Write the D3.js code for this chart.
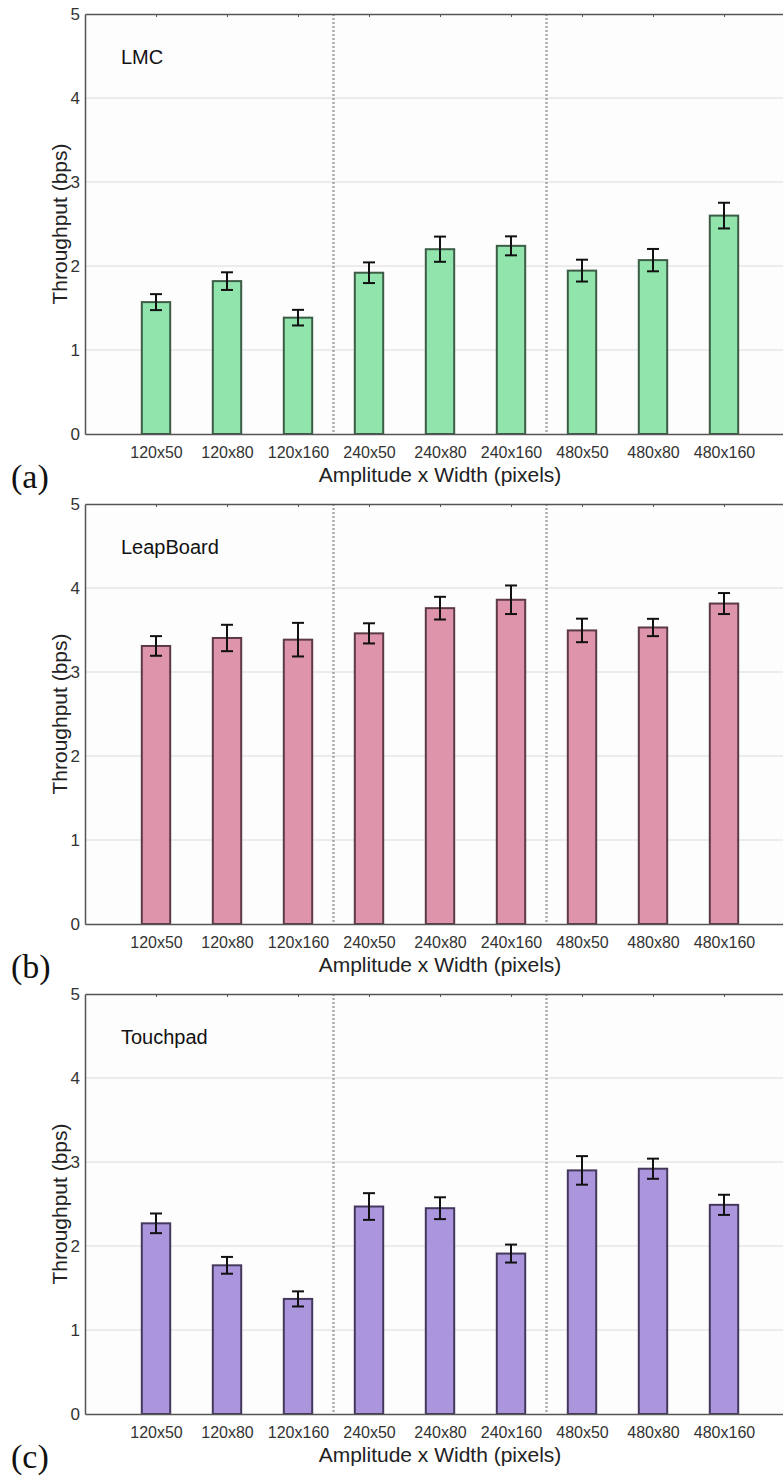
<!DOCTYPE html>
<html>
<head>
<meta charset="utf-8">
<script src="https://cdn.jsdelivr.net/npm/d3@7"></script>
<style>
  html, body { margin:0; padding:0; background:#fff; }
  svg { display:block; }
</style>
</head>
<body>
<div id="chart"></div>
<script>
// ---- data -------------------------------------------------------
const categories = ["120x50","120x80","120x160","240x50","240x80","240x160","480x50","480x80","480x160"];
const yTicks     = [0, 1, 2, 3, 4, 5];
const groupBreaks = [3.5, 6.5];           // dotted separators between amplitude groups

const lmcMean   = [1.57, 1.82, 1.385, 1.92, 2.20, 2.24, 1.945, 2.07, 2.60];
const lmcErr    = [0.095, 0.105, 0.093, 0.123, 0.15, 0.113, 0.13, 0.133, 0.153];
const leapMean  = [3.31, 3.405, 3.385, 3.46, 3.76, 3.86, 3.495, 3.53, 3.815];
const leapErr   = [0.117, 0.157, 0.20, 0.12, 0.135, 0.17, 0.14, 0.103, 0.125];
const touchMean = [2.27, 1.77, 1.37, 2.47, 2.45, 1.91, 2.90, 2.92, 2.49];
const touchErr  = [0.117, 0.10, 0.09, 0.159, 0.13, 0.107, 0.17, 0.12, 0.12];

const panels = [
  { tag:"(a)", name:"LMC",       mean:lmcMean,   err:lmcErr,   fill:"#90e4ac", stroke:"#3c5c46" },
  { tag:"(b)", name:"LeapBoard", mean:leapMean,  err:leapErr,  fill:"#de94aa", stroke:"#5c3a47" },
  { tag:"(c)", name:"Touchpad",  mean:touchMean, err:touchErr, fill:"#ab96de", stroke:"#44395c" }
];

// ---- layout -------------------------------------------------------
const W = 783, H = 1475;
const plotH = 420, panelStep = 490, top0 = 14;
const left = 85, rightEdge = 795;          // plot runs past the picture edge
const sans = "'Liberation Sans', Arial, Helvetica, sans-serif";

const svg = d3.select("#chart").append("svg")
  .attr("width", W).attr("height", H)
  .attr("font-family", sans);

const x = d3.scaleLinear().domain([0, 10]).range([left, rightEdge]);
const barW = (x(1) - x(0)) * 0.4;

panels.forEach((p, k) => {
  const top = top0 + k * panelStep;
  const y = d3.scaleLinear().domain([0, 5]).range([top + plotH, top]);
  const g = svg.append("g");

  // plot background
  g.append("rect")
    .attr("x", x(0)).attr("y", y(5))
    .attr("width", x(10) - x(0)).attr("height", y(0) - y(5))
    .attr("fill", "#fdfdfd");

  // grid
  g.append("g").selectAll("line")
    .data(yTicks.filter(t => t > 0 && t < 5))
    .join("line")
      .attr("x1", x(0)).attr("x2", x(10))
      .attr("y1", d => y(d)).attr("y2", d => y(d))
      .attr("stroke", "#e6e6e6").attr("stroke-width", 1.5);

  // group separators
  g.append("g").selectAll("line")
    .data(groupBreaks)
    .join("line")
      .attr("x1", d => x(d)).attr("x2", d => x(d))
      .attr("y1", y(5)).attr("y2", y(0))
      .attr("stroke", "#aaa").attr("stroke-width", 2.5)
      .attr("stroke-dasharray", "2,2");

  // bars
  const rows = categories.map((c, i) => ({ c, pos: i + 1, m: p.mean[i], e: p.err[i] }));
  g.append("g").selectAll("rect")
    .data(rows)
    .join("rect")
      .attr("x", d => x(d.pos) - barW / 2)
      .attr("y", d => y(d.m))
      .attr("width", barW)
      .attr("height", d => y(0) - y(d.m))
      .attr("fill", p.fill)
      .attr("stroke", p.stroke).attr("stroke-width", 2);

  // error bars
  const eb = g.append("g").attr("stroke", "#111").attr("stroke-width", 2);
  eb.selectAll(".v").data(rows).join("line").attr("class", "v")
    .attr("x1", d => x(d.pos)).attr("x2", d => x(d.pos))
    .attr("y1", d => y(d.m + d.e)).attr("y2", d => y(d.m - d.e));
  ["hi", "lo"].forEach(s => {
    eb.selectAll("." + s).data(rows).join("line").attr("class", s)
      .attr("x1", d => x(d.pos) - 6).attr("x2", d => x(d.pos) + 6)
      .attr("y1", d => y(s === "hi" ? d.m + d.e : d.m - d.e))
      .attr("y2", d => y(s === "hi" ? d.m + d.e : d.m - d.e));
  });

  // axes
  const axStyle = sel => {
    sel.select(".domain").attr("stroke", "#555").attr("stroke-width", 1.5);
    sel.selectAll(".tick line").attr("stroke", "#555");
    sel.selectAll("text").attr("fill", "#333").attr("font-size", 16).attr("font-family", sans);
  };
  const tickPos = categories.map((c, i) => i + 1);

  g.append("g").attr("transform", `translate(0,${y(5)})`)
    .call(d3.axisBottom(x).tickValues(tickPos).tickSize(3).tickSizeOuter(0).tickFormat(""))
    .call(axStyle);

  g.append("g").attr("transform", `translate(0,${y(0)})`)
    .call(d3.axisBottom(x).tickValues(tickPos).tickSize(0).tickSizeOuter(0)
      .tickPadding(13).tickFormat((d, i) => categories[i]))
    .call(axStyle);

  g.append("g").attr("transform", `translate(${x(0)},0)`)
    .call(d3.axisLeft(y).tickValues(yTicks).tickSize(0).tickSizeOuter(0)
      .tickPadding(5).tickFormat(d3.format("d")))
    .call(axStyle)
    .call(a => a.selectAll("text").attr("font-size", 17));

  // titles
  g.append("text")
    .attr("x", 440).attr("y", y(0) + 48)
    .attr("text-anchor", "middle").attr("font-size", 21).attr("fill", "#222")
    .text("Amplitude x Width (pixels)");

  g.append("text")
    .attr("transform", `translate(67,${(y(0) + y(5)) / 2}) rotate(-90)`)
    .attr("text-anchor", "middle").attr("font-size", 21).attr("fill", "#222")
    .text("Throughput (bps)");

  g.append("text")
    .attr("x", 121).attr("y", y(5) + 50)
    .attr("font-size", 20).attr("fill", "#111")
    .text(p.name);

  g.append("text")
    .attr("x", 11).attr("y", y(0) + 54)
    .attr("font-family", "'Liberation Serif', 'Times New Roman', serif")
    .attr("font-size", 34).attr("fill", "#111")
    .text(p.tag);
});
</script>
</body>
</html>
